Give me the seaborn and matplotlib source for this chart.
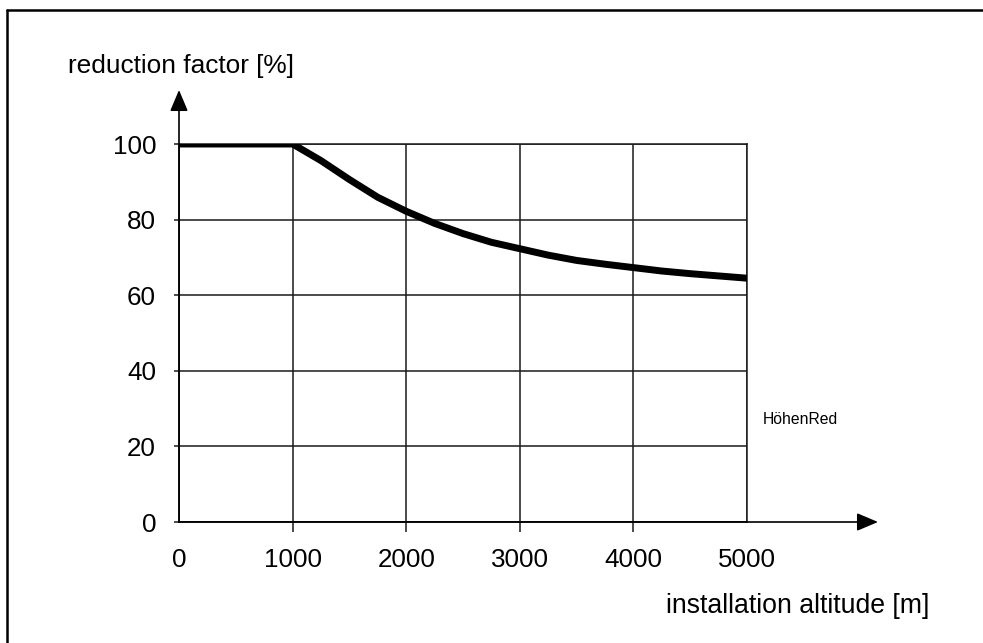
import numpy as np
import pandas as pd
import matplotlib
matplotlib.use("Agg")
import matplotlib.pyplot as plt
from matplotlib.lines import Line2D
import seaborn as sns

# ---- data ----
altitude = [0, 1000, 1250, 1500, 1750, 2000, 2250, 2500, 2750, 3000,
            3250, 3500, 3750, 4000, 4250, 4500, 4750, 5000]
reduction = [100, 100, 95.6, 90.6, 85.9, 82.2, 79.0, 76.3, 74.0, 72.3,
             70.6, 69.2, 68.2, 67.3, 66.4, 65.7, 65.1, 64.5]
x_ticks = [0, 1000, 2000, 3000, 4000, 5000]
y_ticks = [0, 20, 40, 60, 80, 100]
x_label = "installation altitude [m]"
y_label = "reduction factor [%]"
tag = "HöhenRed"

sns.set_theme(style="white")
plt.rcParams['font.family'] = ['Liberation Sans', 'DejaVu Sans']

W, H = 983, 643
fig = plt.figure(figsize=(W / 100, H / 100), dpi=100)
fig.patch.set_facecolor("white")

x0, x1 = 179, 747
y0, y1 = 522, 144
ax = fig.add_axes([x0 / W, 1 - y0 / H, (x1 - x0) / W, (y0 - y1) / H])
ax.set_facecolor("white")

df = pd.DataFrame({"altitude": altitude, "reduction": reduction})
sns.lineplot(data=df, x="altitude", y="reduction", ax=ax, color="black",
             linewidth=5.0, solid_capstyle="butt", solid_joinstyle="round", zorder=5)

ax.set_xlim(0, 5000)
ax.set_ylim(0, 100)
ax.set_xticks(x_ticks)
ax.set_yticks(y_ticks)
ax.set_xticklabels([str(t) for t in x_ticks])
ax.set_yticklabels([str(t) for t in y_ticks])
ax.set_xlabel("")
ax.set_ylabel("")

ax.grid(True, color="#1a1a1a", linewidth=1.1)
for s in ax.spines.values():
    s.set_color("#1a1a1a")
    s.set_linewidth(1.1)

ax.tick_params(axis="x", direction="out", length=7, width=1.1, color="#1a1a1a",
               labelsize=18.7, pad=11.5, bottom=True, labelcolor="black")
ax.tick_params(axis="y", direction="out", length=3.5, width=1.1, color="#1a1a1a",
               labelsize=18.7, pad=13, left=True, labelcolor="black")
xt = ax.xaxis.get_major_ticks()
xt[0].tick1line.set_visible(False)
xt[-1].tick1line.set_visible(False)

# axis arrows
arrow_kw = dict(arrowstyle="-|>,head_length=13,head_width=5.5", color="black",
                lw=1.2, shrinkA=0, shrinkB=0, mutation_scale=1)
ax.annotate("", xy=(0, (y0 - 90) / (y0 - y1)), xytext=(0, 0),
            xycoords="axes fraction", textcoords="axes fraction",
            arrowprops=arrow_kw, annotation_clip=False)
ax.annotate("", xy=((878 - x0) / (x1 - x0), 0), xytext=(0, 0),
            xycoords="axes fraction", textcoords="axes fraction",
            arrowprops=arrow_kw, annotation_clip=False)

# texts
fig.text(68 / W, 1 - 66 / H, y_label, fontsize=18.9, ha="left", va="center", color="black")
fig.text(666 / W, 1 - 606 / H, x_label, fontsize=19.2, ha="left", va="center", color="black")
fig.text(763 / W, 1 - 420 / H, tag, fontsize=11.3, ha="left", va="center", color="black")

# frame (left and top only, as in the reference)
fig.add_artist(Line2D([7 / W, 7 / W], [0, 1 - 10 / H], color="black", linewidth=1.8,
                      transform=fig.transFigure))
fig.add_artist(Line2D([7 / W, 1], [1 - 10 / H, 1 - 10 / H], color="black", linewidth=1.8,
                      transform=fig.transFigure))

fig.savefig("out.png", dpi=100, facecolor="white")
